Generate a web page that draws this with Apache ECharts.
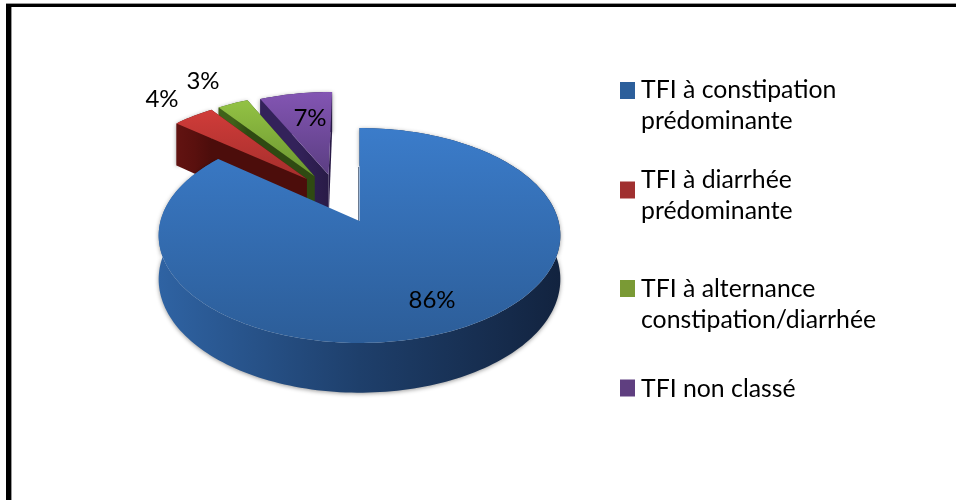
<!DOCTYPE html>
<html>
<head>
<meta charset="utf-8">
<style>
  html, body { margin: 0; padding: 0; background: #fff; }
  #chart { width: 956px; height: 500px; }
</style>
<script src="https://cdn.jsdelivr.net/npm/echarts@6/dist/echarts.min.js"></script>
</head>
<body>
<div id="chart"></div>
<script>
// données
const categories = [
  'TFI à constipation\nprédominante',
  'TFI à diarrhée\nprédominante',
  'TFI à alternance\nconstipation/diarrhée',
  'TFI non classé'
];
const values = [86, 4, 3, 7];

// styles des parts
const topColors = [['#3b7cca', '#2c5d98'], ['#d03c39', '#a52e2c'], ['#93c244', '#6b9630'], ['#8355b3', '#5b3e82']];
const wallColors = [['#2f63a3', '#1e3f6b', '#12233f'], ['#621311', '#5a100e', '#4c0d0b'], ['#40621a', '#40621a', '#2f4a12'], ['#33225a', '#33225a', '#281a45']];
const legendColors = ['#2c5f9b', '#a03030', '#7a9a35', '#5f3f80'];
// décalage des parts éclatées (plan du disque, rayon = 1)
const explode = [[0, 0], [-0.28, -0.42], [-0.24, -0.45], [-0.165, -0.465]];
const wallDepth = [43, 48, 48, 48];
const labelPos = [[432, 300], [162, 99], [203, 81], [310, 118]];
const legendIconY = [90.5, 190, 288.5, 388];
const legendTextY = [90, 180, 289, 389];
const drawOrder = [3, 2, 1, 0];

const FONT = 'Lato, "Open Sans", sans-serif';
const total = values.reduce((a, b) => a + b, 0);

// perspective du disque
const cx = 359.5, cy = 221, radX = 199, radY = 105.5, persp = 0.135;

function project(u, v, depth) {
  const s = 1 / (1 - persp * v);
  return [cx + radX * u * s, cy + radY * v * s + depth * s];
}

function onRim(theta, off, depth) {
  return project(Math.sin(theta) + off[0], -Math.cos(theta) + off[1], depth);
}

function polygon(points, fill, extra) {
  return {
    type: 'polygon',
    shape: { points: points },
    style: Object.assign({ fill: fill }, extra || {})
  };
}

function hGrad(colors, x1, x2) {
  const stops = colors.map((c, i) => ({ offset: i / (colors.length - 1), color: c }));
  return new echarts.graphic.LinearGradient(x1, 0, x2, 0, stops, true);
}

function vGrad(colors, y1, y2) {
  return new echarts.graphic.LinearGradient(0, y1, 0, y2, [
    { offset: 0, color: colors[0] },
    { offset: 1, color: colors[1] }
  ], true);
}

function renderSlice(params, api) {
  const idx = api.value(0);
  let before = 0;
  for (let i = 0; i < idx; i++) before += values[i];
  const a0 = before / total * Math.PI * 2;
  const a1 = (before + api.value(1)) / total * Math.PI * 2;
  const off = explode[idx];
  const depth = wallDepth[idx];
  const n = Math.max(8, Math.round((a1 - a0) * 40));

  const topArc = [], lowArc = [];
  for (let i = 0; i <= n; i++) {
    const t = a0 + (a1 - a0) * i / n;
    topArc.push(onRim(t, off, 0));
    lowArc.push(onRim(t, off, depth));
  }
  const apexTop = project(off[0], off[1], 0);
  const apexLow = project(off[0], off[1], depth);
  const shadow = { shadowBlur: 4, shadowColor: 'rgba(0,0,0,0.4)', shadowOffsetY: 1 };
  const children = [];

  // paroi extérieure
  const rimWall = topArc.concat(lowArc.slice().reverse());
  const xs = rimWall.map(p => p[0]);
  const wallFill = hGrad(wallColors[idx], Math.min.apply(null, xs), Math.max.apply(null, xs));
  children.push(polygon(rimWall, wallFill, shadow));

  // parois de coupe
  if (idx > 0) {
    children.push(polygon([apexTop, topArc[0], lowArc[0], apexLow], wallFill));
    children.push(polygon([apexTop, topArc[n], lowArc[n], apexLow], wallFill));
  } else {
    // la coupe de la grande part se voit presque de profil
    const edge = project(off[0], off[1] - 0.55, 0);
    children.push({
      type: 'line',
      shape: { x1: apexTop[0] - 1, y1: apexTop[1], x2: edge[0] - 1, y2: edge[1] },
      style: { stroke: '#6a7a90', lineWidth: 1 }
    });
  }

  // face du dessus
  const face = [apexTop].concat(topArc);
  const ys = face.map(p => p[1]);
  children.push(polygon(face, vGrad(topColors[idx], Math.min.apply(null, ys), Math.max.apply(null, ys))));

  // étiquette
  children.push({
    type: 'text',
    z2: 20,
    style: {
      x: labelPos[idx][0], y: labelPos[idx][1],
      text: api.value(1) + '%',
      font: '24px ' + FONT,
      fill: '#000',
      align: 'center',
      verticalAlign: 'middle'
    }
  });
  return { type: 'group', children: children };
}

// cadre et légende
const graphicEls = [
  { type: 'rect', shape: { x: 6, y: 3, width: 950, height: 1 }, style: { fill: '#999' } },
  { type: 'rect', shape: { x: 6, y: 4, width: 950, height: 3 }, style: { fill: '#000' } },
  { type: 'rect', shape: { x: 6, y: 4, width: 5, height: 496 }, style: { fill: '#000' } },
  { type: 'rect', shape: { x: 11, y: 7, width: 1, height: 493 }, style: { fill: '#999' } }
];
categories.forEach((name, i) => {
  graphicEls.push({
    type: 'rect',
    shape: { x: 620, y: legendIconY[i] - 8.5, width: 15, height: 17 },
    style: { fill: legendColors[i] }
  });
  graphicEls.push({
    type: 'text',
    style: {
      x: 641, y: legendTextY[i] - 15.5,
      text: name,
      font: '24.8px ' + FONT,
      lineHeight: 31,
      fill: '#000',
      align: 'left',
      verticalAlign: 'top'
    }
  });
});

const chart = echarts.init(document.getElementById('chart'), null, { renderer: 'canvas' });
chart.setOption({
  animation: false,
  backgroundColor: '#fff',
  graphic: graphicEls,
  series: [{
    type: 'custom',
    coordinateSystem: 'none',
    renderItem: renderSlice,
    data: drawOrder.map(i => [i, values[i]]),
    silent: true
  }]
});
</script>
</body>
</html>
